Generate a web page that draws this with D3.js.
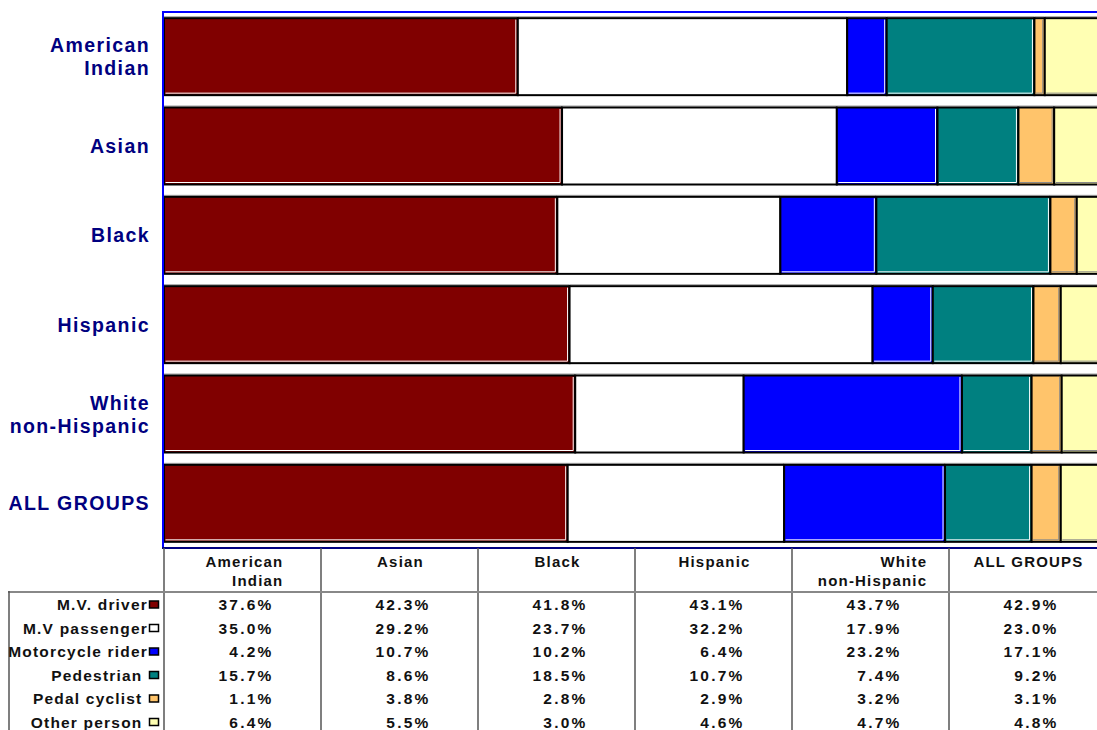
<!DOCTYPE html>
<html><head><meta charset="utf-8">
<script src="https://cdn.jsdelivr.net/npm/d3@7"></script>
<style>
html,body{margin:0;padding:0;background:#fff;overflow:hidden;}
svg{display:block;font-family:"Liberation Sans",Arial,sans-serif;font-weight:bold;}
text{white-space:pre;}
</style></head>
<body>
<svg id="chart" width="1097" height="730"></svg>
<script>
const categories = ["American Indian","Asian","Black","Hispanic","White non-Hispanic","ALL GROUPS"];
const categoryLabelLines = [["American","Indian"],["Asian"],["Black"],["Hispanic"],["White","non-Hispanic"],["ALL GROUPS"]];
const seriesNames = ["M.V. driver","M.V passenger","Motorcycle rider","Pedestrian ","Pedal cyclist ","Other person "];
const mvDriver     = [37.6,42.3,41.8,43.1,43.7,42.9];
const mvPassenger  = [35.0,29.2,23.7,32.2,17.9,23.0];
const motorcycle   = [4.2,10.7,10.2,6.4,23.2,17.1];
const pedestrian   = [15.7,8.6,18.5,10.7,7.4,9.2];
const pedalCyclist = [1.1,3.8,2.8,2.9,3.2,3.1];
const otherPerson  = [6.4,5.5,3.0,4.6,4.7,4.8];
const seriesValues = [mvDriver,mvPassenger,motorcycle,pedestrian,pedalCyclist,otherPerson];
const seriesColors = ["#800000","#FFFFFF","#0000FF","#008080","#FFC46B","#FFFFB3"];

const svg = d3.select("#chart");
const plotTop = 12, plotBottom = 548, plotLeft = 164;
const x = d3.scaleLinear().domain([0,100]).range([plotLeft,1105]);
const y = d3.scaleBand().domain(categories).range([plotTop,plotBottom]).paddingInner(0.138).paddingOuter(0.069);
const col = d3.scaleBand().domain(categories).range([plotLeft,1106]);

// stacked data
const rows = categories.map((c,i)=>{const o={cat:c}; seriesNames.forEach((s,j)=>o[s]=seriesValues[j][i]); return o;});
const stack = d3.stack().keys(seriesNames)(rows);

const gBars = svg.append("g");
stack.forEach((layer,j)=>{
  const g = gBars.append("g");
  layer.forEach(d=>{
    const x0=x(d[0]), x1=x(d[1]), yy=y(d.data.cat), h=y.bandwidth();
    g.append("line").attr("x1",x0).attr("x2",x1).attr("y1",yy-1.5).attr("y2",yy-1.5).attr("stroke","#a0a0a0").attr("stroke-width",1);
    g.append("rect").attr("x",x0).attr("y",yy).attr("width",Math.max(0,x1-x0)).attr("height",h)
      .attr("fill",seriesColors[j]).attr("stroke","#000").attr("stroke-width",2);
    g.append("path").attr("d",`M${x1-2},${yy+1.5}V${yy+h-2}H${x0+1.5}`).attr("fill","none")
      .attr("stroke", j===4||j===5 ? "#888" : "#fff").attr("stroke-width",1);
  });
});

// plot border
svg.append("line").attr("x1",plotLeft-1).attr("x2",1097).attr("y1",plotTop).attr("y2",plotTop).attr("stroke","#0000FF").attr("stroke-width",2);
svg.append("line").attr("x1",plotLeft-1).attr("x2",plotLeft-1).attr("y1",plotTop-1).attr("y2",plotBottom).attr("stroke","#0000FF").attr("stroke-width",2);
svg.append("line").attr("x1",plotLeft-2).attr("x2",1097).attr("y1",plotBottom).attr("y2",plotBottom).attr("stroke","#000080").attr("stroke-width",2);

// category labels
categories.forEach((c,i)=>{
  const lines = categoryLabelLines[i];
  const cy = y(c)+y.bandwidth()/2;
  const t = svg.append("text").attr("text-anchor","end").attr("fill","#000080")
    .attr("font-size",19.5).attr("letter-spacing",1.4);
  lines.forEach((ln,k)=>{
    t.append("tspan").attr("x",150).attr("y",cy+7+(k-(lines.length-1)/2)*23).text(ln);
  });
});

// table
const tableLine = "#555";
col.domain().forEach(c=>{
  svg.append("line").attr("x1",col(c)).attr("x2",col(c)).attr("y1",plotBottom).attr("y2",730).attr("stroke",tableLine).attr("stroke-width",1.5);
});
svg.append("line").attr("x1",8).attr("x2",1097).attr("y1",592).attr("y2",592).attr("stroke","#888").attr("stroke-width",2);
svg.append("line").attr("x1",9).attr("x2",9).attr("y1",591).attr("y2",730).attr("stroke",tableLine).attr("stroke-width",1.5);

// header
const headerLines = [["American","Indian"],["Asian"],["Black"],["Hispanic"],["White","non-Hispanic"],["ALL GROUPS"]];
const hfs = 15, hls = 1.2;
categories.forEach((c,i)=>{
  const cx = col(c)+col.bandwidth()/2;
  const lines = headerLines[i];
  if(lines.length===1){
    svg.append("text").attr("x",cx+1).attr("y",567).attr("text-anchor","middle").attr("font-size",hfs).attr("letter-spacing",hls).attr("fill","#111").text(lines[0]);
  } else {
    const longest = lines.reduce((a,b)=>a.length>=b.length?a:b);
    const tmp = svg.append("text").attr("font-size",hfs).attr("letter-spacing",hls).text(longest);
    const w = tmp.node().getComputedTextLength(); tmp.remove();
    const right = cx + w/2 + 2;
    lines.forEach((ln,k)=>{
      svg.append("text").attr("x",right).attr("y",567+k*19).attr("text-anchor","end").attr("font-size",hfs).attr("letter-spacing",hls).attr("fill","#111").text(ln);
    });
  }
});

// rows
seriesNames.forEach((s,j)=>{
  const by = 610 + j*23.5;
  svg.append("text").attr("x",148).attr("y",by).attr("text-anchor","end").attr("font-size",15.5).attr("letter-spacing",1.2).attr("fill","#111").text(s);
  svg.append("rect").attr("x",149.5).attr("y",by-9).attr("width",9).attr("height",7).attr("fill",seriesColors[j]).attr("stroke","#000").attr("stroke-width",1.5);
  categories.forEach((c,i)=>{
    const cx = col(c)+col.bandwidth()/2;
    svg.append("text").attr("x",cx+31).attr("y",by).attr("text-anchor","end").attr("font-size",15.5).attr("letter-spacing",2.2).attr("fill","#111")
      .text(seriesValues[j][i].toFixed(1)+"%");
  });
});
</script>
</body></html>
